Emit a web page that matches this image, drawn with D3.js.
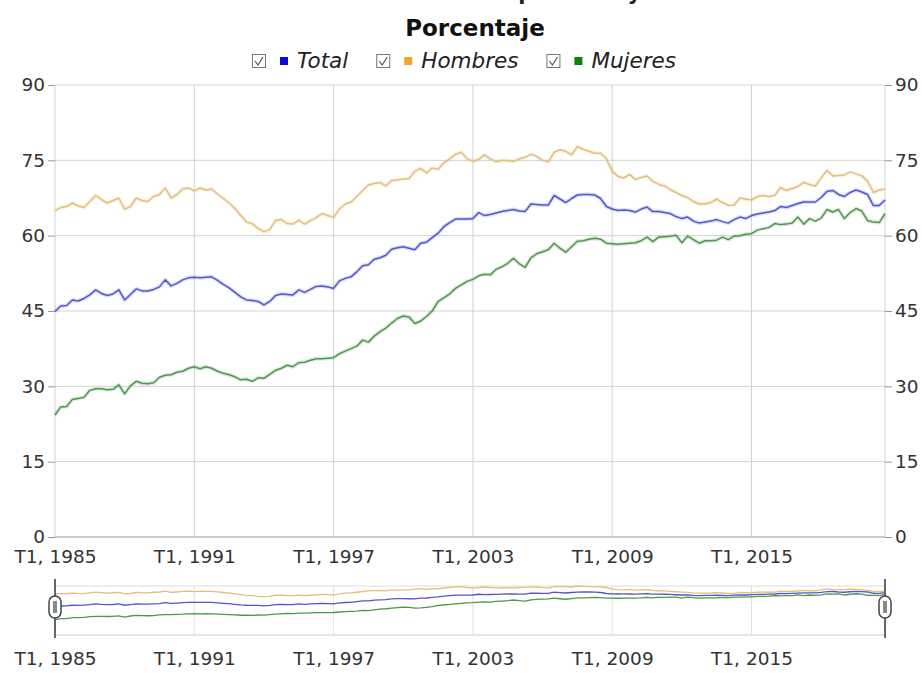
<!DOCTYPE html>
<html>
<head>
<meta charset="utf-8">
<script src="https://cdn.jsdelivr.net/npm/d3@7"></script>
<style>
  body { margin: 0; background: #fff; }
  svg { display: block; font-family: "DejaVu Sans", sans-serif; }
</style>
</head>
<body>
<svg width="922" height="673"></svg>
<script>
var years = d3.range(1985, 2021),
    quarters = [];
years.forEach(function (y) {
    for (var q = 1; q <= 4; q++) quarters.push('T' + q + ', ' + y);
});

var tickLabels = ['T1, 1985', 'T1, 1991', 'T1, 1997', 'T1, 2003', 'T1, 2009', 'T1, 2015'];
var yTicks = [0, 15, 30, 45, 60, 75, 90];

var total = [
    44.9, 46.0, 46.1, 47.2, 47.0, 47.5, 48.2, 49.2,
    48.5, 48.1, 48.4, 49.2, 47.2, 48.3, 49.4, 49.0,
    49.0, 49.3, 49.8, 51.2, 50.0, 50.5, 51.2, 51.6,
    51.7, 51.6, 51.7, 51.8, 51.1, 50.3, 49.6, 48.7,
    47.8, 47.2, 47.1, 46.9, 46.2, 46.9, 48.1, 48.4,
    48.3, 48.2, 49.2, 48.7, 49.3, 49.9, 50.0, 49.8,
    49.5, 51.0, 51.5, 51.8, 52.8, 54.0, 54.2, 55.3,
    55.6, 56.1, 57.3, 57.6, 57.8, 57.5, 57.2, 58.5,
    58.7, 59.6, 60.5, 61.8, 62.6, 63.3, 63.3, 63.3,
    63.4, 64.6, 64.0, 64.2, 64.5, 64.8, 65.0, 65.2,
    64.9, 64.8, 66.3, 66.2, 66.1, 66.1, 68.0, 67.3,
    66.6, 67.4, 68.1, 68.2, 68.2, 68.1, 67.4, 65.8,
    65.3, 65.0, 65.1, 65.0, 64.7, 65.3, 65.7, 64.8,
    64.8, 64.6, 64.4, 63.8, 63.4, 63.7, 62.9, 62.5,
    62.7, 62.9, 63.2, 62.8, 62.5, 63.2, 63.7, 63.4,
    64.0, 64.3, 64.5, 64.7, 65.0, 65.8, 65.6, 66.0,
    66.4, 66.7, 66.7, 66.7, 67.6, 68.8, 69.0, 68.2,
    67.8, 68.6, 69.1, 68.7, 68.2, 66.0, 66.0, 67.1
];

var hombres = [
    65.0, 65.6, 65.8, 66.5, 65.9, 65.6, 66.8, 68.0,
    67.2, 66.5, 67.0, 67.5, 65.3, 65.8, 67.5, 67.0,
    66.8, 67.8, 68.2, 69.5, 67.5, 68.2, 69.3, 69.5,
    68.9, 69.5, 69.1, 69.3, 68.3, 67.4, 66.5, 65.4,
    64.0, 62.7, 62.4, 61.4, 60.8, 61.2, 63.0, 63.2,
    62.4, 62.3, 63.1, 62.3, 63.0, 63.6, 64.4, 64.0,
    63.6, 65.3, 66.3, 66.7, 67.8, 69.0, 70.1, 70.4,
    70.6, 69.9, 71.0, 71.1, 71.3, 71.4, 72.8, 73.4,
    72.5, 73.5, 73.2, 74.5, 75.3, 76.2, 76.6, 75.3,
    74.8, 75.2, 76.1, 75.3, 74.7, 75.0, 74.9, 74.8,
    75.3, 75.6, 76.2, 75.8, 75.0, 74.7, 76.6, 77.1,
    76.8, 76.1, 77.7, 77.2, 76.8, 76.4, 76.4, 75.3,
    72.8, 71.8, 71.5, 72.2, 71.2, 71.6, 71.9, 70.8,
    70.2, 69.9, 69.2, 68.6, 68.0, 67.6, 66.8, 66.3,
    66.3, 66.6, 67.3, 66.6, 66.0, 66.1, 67.5, 67.3,
    67.1, 67.8, 68.0, 67.8, 68.0, 69.6, 69.0, 69.4,
    69.8, 70.6, 70.2, 69.9, 71.5, 73.0, 71.9, 72.0,
    72.1, 72.7, 72.3, 71.9, 70.9, 68.6, 69.1, 69.3
];

var mujeres = [
    24.3, 25.9, 26.0, 27.4, 27.6, 27.8, 29.2, 29.5,
    29.5, 29.3, 29.4, 30.3, 28.5, 30.1, 31.0, 30.6,
    30.5, 30.7, 31.8, 32.2, 32.3, 32.8, 33.0, 33.6,
    33.9, 33.5, 33.9, 33.6, 33.0, 32.6, 32.3, 31.9,
    31.3, 31.4, 31.0, 31.7, 31.6, 32.4, 33.2, 33.6,
    34.2, 33.9, 34.7, 34.8, 35.2, 35.5, 35.5, 35.6,
    35.7, 36.5, 37.0, 37.5, 38.0, 39.2, 38.8, 40.0,
    40.9, 41.6, 42.6, 43.5, 44.0, 43.8, 42.5, 43.0,
    43.9, 45.0, 46.9, 47.6, 48.4, 49.5, 50.2, 50.9,
    51.3, 52.0, 52.3, 52.2, 53.3, 53.8, 54.5, 55.5,
    54.4, 53.7, 55.6, 56.4, 56.8, 57.2, 58.5, 57.5,
    56.7, 57.8, 58.9, 59.0, 59.3, 59.5, 59.3, 58.5,
    58.4, 58.3, 58.4, 58.5, 58.6, 59.0, 59.7, 58.8,
    59.7, 59.8, 59.9, 60.1, 58.6, 59.9, 59.2, 58.5,
    59.0, 59.0, 59.1, 59.7, 59.2, 59.9, 60.0, 60.3,
    60.4, 61.1, 61.4, 61.6, 62.4, 62.2, 62.3, 62.5,
    63.7, 62.3, 63.4, 62.9, 63.5, 65.2, 64.7, 65.2,
    63.4, 64.6, 65.4, 64.9, 63.0, 62.7, 62.6, 64.4
];

var seriesNames = ['Total', 'Hombres', 'Mujeres'],
    lineColors = ['#5656cc', '#e2c07c', '#4f964f'],
    legendColors = ['#0a0ae0', '#f0a52a', '#0e800e'];

var svg = d3.select('svg'),
    series = [total, hombres, mujeres],
    plotLeft = 55, plotRight = 885, plotTop = 85, plotBottom = 537,
    navTop = 586, navBottom = 635;

var x = d3.scaleLinear().domain([0, quarters.length - 1]).range([plotLeft, plotRight]),
    y = d3.scaleLinear().domain([0, 90]).range([plotBottom, plotTop]),
    ny = d3.scaleLinear().domain([0, d3.max(hombres)]).range([navBottom, navTop]);

var tickIdx = tickLabels.map(function (t) { return quarters.indexOf(t); });

// titles (first line is cut by the top edge, as in the original)
svg.append('text').attr('x', 500).attr('y', 0).attr('text-anchor', 'middle')
    .attr('font-size', 21).attr('font-weight', 'bold').attr('fill', '#222')
    .text('Tasas de actividad por sexo y edad');
svg.append('text').attr('x', 475).attr('y', 36).attr('text-anchor', 'middle')
    .attr('font-size', 23).attr('font-weight', 'bold').attr('fill', '#111')
    .text('Porcentaje');

// legend
var legend = svg.append('g').attr('transform', 'translate(252,61)'),
    lx = 0;
seriesNames.forEach(function (name, i) {
    var g = legend.append('g').attr('transform', 'translate(' + lx + ',0)');
    g.append('rect').attr('x', 0.5).attr('y', -6.5).attr('width', 13).attr('height', 13)
        .attr('fill', '#fff').attr('stroke', '#777');
    g.append('path').attr('d', 'M3,0 L6,4 L11,-4').attr('fill', 'none')
        .attr('stroke', '#555').attr('stroke-width', 1.2);
    g.append('rect').attr('x', 28).attr('y', -4).attr('width', 8).attr('height', 8)
        .attr('fill', legendColors[i]);
    var t = g.append('text').attr('x', 45).attr('y', 7).attr('font-size', 21.5)
        .attr('font-style', 'italic').attr('fill', '#222').text(name);
    lx += 45 + t.node().getComputedTextLength() + 28;
});

// grid
var grid = svg.append('g');
grid.selectAll('.hg').data(yTicks.slice(1)).enter().append('line')
    .attr('x1', plotLeft).attr('x2', plotRight)
    .attr('y1', function (d) { return y(d); }).attr('y2', function (d) { return y(d); })
    .attr('stroke', '#d3d3d3');
grid.selectAll('.vg').data(tickIdx.concat([quarters.length - 1])).enter().append('line')
    .attr('x1', function (d) { return x(d); }).attr('x2', function (d) { return x(d); })
    .attr('y1', plotTop).attr('y2', plotBottom)
    .attr('stroke', '#d3d3d3');

// axes
function styleAxis(g) {
    g.select('.domain').remove();
    g.selectAll('line').attr('stroke', '#999');
    g.selectAll('text').attr('font-size', 18.5).attr('fill', '#333')
        .attr('font-family', '"DejaVu Sans", sans-serif');
}
svg.append('g').attr('transform', 'translate(' + plotLeft + ',0)')
    .call(d3.axisLeft(y).tickValues(yTicks).tickSize(7).tickPadding(3)).call(styleAxis);
svg.append('g').attr('transform', 'translate(' + plotRight + ',0)')
    .call(d3.axisRight(y).tickValues(yTicks).tickSize(7).tickPadding(3)).call(styleAxis);
svg.append('g').attr('transform', 'translate(0,' + plotBottom + ')')
    .call(d3.axisBottom(x).tickValues(tickIdx).tickSize(0).tickPadding(13)
        .tickFormat(function (d) { return quarters[d]; })).call(styleAxis);
svg.append('line').attr('x1', plotLeft).attr('x2', plotRight)
    .attr('y1', plotBottom).attr('y2', plotBottom).attr('stroke', '#999');

// lines
var line = d3.line().x(function (d, i) { return x(i); }).y(function (d) { return y(d); });
var order = [1, 0, 2];
order.forEach(function (k) {
    svg.append('path').datum(series[k]).attr('d', line).attr('fill', 'none')
        .attr('stroke', lineColors[k]).attr('stroke-width', 4).attr('stroke-opacity', 0.2)
        .attr('stroke-linejoin', 'round');
    svg.append('path').datum(series[k]).attr('d', line).attr('fill', 'none')
        .attr('stroke', lineColors[k]).attr('stroke-width', 1.5)
        .attr('stroke-linejoin', 'round');
});

// navigator
var nav = svg.append('g');
nav.selectAll('.nvg').data(tickIdx.slice(1)).enter().append('line')
    .attr('x1', function (d) { return x(d); }).attr('x2', function (d) { return x(d); })
    .attr('y1', navTop).attr('y2', navBottom).attr('stroke', '#e0e0e0');
nav.append('line').attr('x1', plotLeft).attr('x2', plotRight).attr('y1', navTop).attr('y2', navTop)
    .attr('stroke', '#ddd');
nav.append('line').attr('x1', plotLeft).attr('x2', plotRight).attr('y1', navBottom).attr('y2', navBottom)
    .attr('stroke', '#ccc');
var nline = d3.line().x(function (d, i) { return x(i); }).y(function (d) { return ny(d); });
order.forEach(function (k) {
    nav.append('path').datum(series[k]).attr('d', nline).attr('fill', 'none')
        .attr('stroke', lineColors[k]).attr('stroke-width', 1.3);
});
[plotLeft, plotRight].forEach(function (hx) {
    nav.append('line').attr('x1', hx).attr('x2', hx).attr('y1', 579).attr('y2', 638)
        .attr('stroke', '#666').attr('stroke-width', 2);
    nav.append('rect').attr('x', hx - 6).attr('y', 596).attr('width', 12).attr('height', 22)
        .attr('rx', 6).attr('fill', '#fff').attr('stroke', '#444').attr('stroke-width', 1.5);
    nav.append('rect').attr('x', hx - 2).attr('y', 601).attr('width', 4).attr('height', 12)
        .attr('fill', '#888');
});
svg.append('g').attr('transform', 'translate(0,' + navBottom + ')')
    .call(d3.axisBottom(x).tickValues(tickIdx).tickSize(0).tickPadding(17)
        .tickFormat(function (d) { return quarters[d]; })).call(styleAxis);
</script>
</body>
</html>
